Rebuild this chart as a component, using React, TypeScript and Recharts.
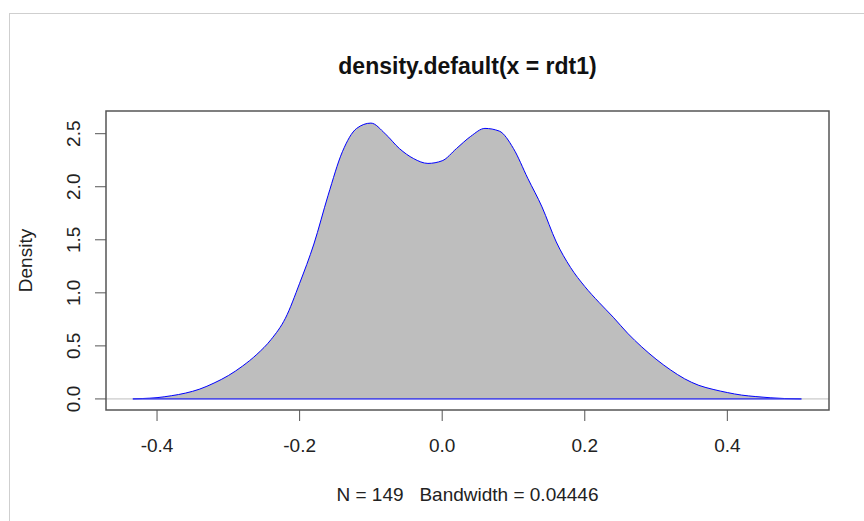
import { ComposedChart, Area, XAxis, YAxis, ReferenceLine } from 'recharts';

// density estimate
const xs = [
  -0.434, -0.42, -0.4, -0.38, -0.36, -0.34, -0.32, -0.3, -0.28, -0.26, -0.24, -0.22,
  -0.2, -0.18, -0.16, -0.14, -0.12, -0.1, -0.08, -0.06, -0.04, -0.02, 0.0, 0.02,
  0.04, 0.06, 0.08, 0.1, 0.12, 0.14, 0.16, 0.18, 0.2, 0.22, 0.24, 0.26, 0.28, 0.3,
  0.32, 0.34, 0.36, 0.38, 0.4, 0.42, 0.44, 0.46, 0.48, 0.504,
];
const density = [
  0, 0.004, 0.012, 0.03, 0.055, 0.093, 0.15, 0.22, 0.31, 0.42, 0.56, 0.76,
  1.09, 1.46, 1.92, 2.33, 2.55, 2.6, 2.5, 2.36, 2.265, 2.22, 2.245, 2.36,
  2.475, 2.55, 2.525, 2.36, 2.08, 1.81, 1.48, 1.24, 1.06, 0.91, 0.77, 0.62, 0.49, 0.375,
  0.275, 0.19, 0.128, 0.09, 0.06, 0.036, 0.022, 0.011, 0.004, 0,
];

const xTicks = [-0.4, -0.2, 0, 0.2, 0.4];
const yTicks = [0, 0.5, 1, 1.5, 2, 2.5];

const title = 'density.default(x = rdt1)';
const subtitle = 'N = 149   Bandwidth = 0.04446';
const yLabel = 'Density';

const font = 'Liberation Sans, Arial, sans-serif';

const chartData = xs.map((x, i) => ({ x, y: density[i] }));

const YTick = ({ x, y, payload }: any) => (
  <text
    x={x}
    y={y}
    transform={`rotate(-90, ${x}, ${y})`}
    textAnchor="middle"
    fontSize={19}
    fontFamily={font}
    fill="#222"
  >
    {payload.value.toFixed(1)}
  </text>
);

export default function App() {
  return (
    <div style={{ position: 'absolute', left: 0, top: 0, width: 864, height: 521, background: '#fff' }}>
      {/* frame around the image */}
      <div
        style={{
          position: 'absolute', left: 9, top: 13, width: 855, height: 508,
          borderTop: '1px solid #cfcfcf', borderLeft: '1px solid #cfcfcf',
        }}
      />
      <div style={{ position: 'absolute', left: 0, top: 0 }}>
        <ComposedChart
          width={864}
          height={521}
          data={chartData}
          margin={{ top: 111, right: 35, bottom: 0, left: 26 }}
        >
          <XAxis
            dataKey="x"
            type="number"
            domain={[-0.4716, 0.5426]}
            ticks={xTicks}
            allowDataOverflow
            tickFormatter={(v: number) => v.toFixed(1)}
            tickSize={11}
            tickMargin={18}
            height={111}
            stroke="#555"
            axisLine={false}
            tick={{ fontSize: 19, fontFamily: font, fill: '#222' }}
          />
          <YAxis
            type="number"
            domain={[-0.1044, 2.714]}
            ticks={yTicks}
            allowDataOverflow
            tickSize={11}
            tickMargin={15}
            width={80}
            stroke="#555"
            axisLine={false}
            tick={<YTick />}
          />
          <ReferenceLine y={0} stroke="#bebebe" strokeWidth={1} />
          <Area
            type="monotone"
            dataKey="y"
            stroke="#0000ff"
            strokeWidth={1}
            fill="#bebebe"
            fillOpacity={1}
            baseValue={0}
            isAnimationActive={false}
            dot={false}
            activeDot={false}
          />
          <ReferenceLine
            segment={[{ x: xs[0], y: 0 }, { x: xs[xs.length - 1], y: 0 }]}
            stroke="#0000ff"
            strokeWidth={1}
          />
        </ComposedChart>
      </div>
      {/* plot box and titles */}
      <svg width={864} height={521} style={{ position: 'absolute', left: 0, top: 0, pointerEvents: 'none' }}>
        <rect x={106} y={111} width={723} height={299} fill="none" stroke="#555" strokeWidth={1.5} />
        <text x={467.5} y={74} textAnchor="middle" fontSize={23} fontWeight="bold" fontFamily={font} fill="#111">
          {title}
        </text>
        <text x={467.5} y={501} textAnchor="middle" fontSize={19} fontFamily={font} fill="#222" style={{ whiteSpace: 'pre' }}>
          {subtitle}
        </text>
        <text x={32} y={260.5} transform="rotate(-90, 32, 260.5)" textAnchor="middle" fontSize={19} fontFamily={font} fill="#222">
          {yLabel}
        </text>
      </svg>
    </div>
  );
}
